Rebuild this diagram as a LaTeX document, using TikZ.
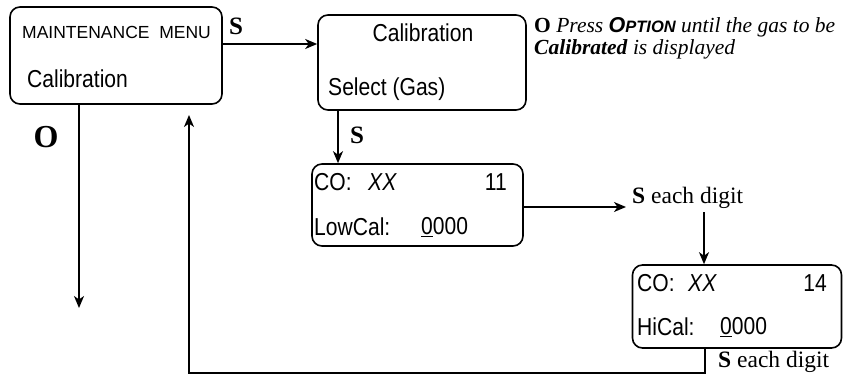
\documentclass[tikz,border=0pt]{standalone}
\usepackage{fontspec}
\setmainfont{Liberation Serif}
\newfontfamily\nar[FakeStretch=0.86]{Liberation Sans}
\newfontfamily\ari{Liberation Sans}
\usetikzlibrary{arrows.meta,calc}
\begin{document}
\begin{tikzpicture}[x=1pt,y=-1pt,
  box/.style={draw, rounded corners=10pt, line width=1.6pt, inner sep=0pt},
  arr/.style={line width=1.7pt, -{Stealth[length=12pt,width=10pt,inset=3.5pt]}},
  sans/.style={font=\nar\fontsize{24.5}{28}\selectfont, inner sep=0pt},
  sanssm/.style={font=\ari\fontsize{17.5}{20}\selectfont, inner sep=0pt},
  lbl/.style={font=\bfseries\fontsize{25}{28}\selectfont, inner sep=0pt},
  serif/.style={font=\fontsize{23.5}{27}\selectfont, inner sep=0pt},
  note/.style={font=\fontsize{21.5}{25}\selectfont, inner sep=0pt}]
\useasboundingbox (0,0) rectangle (843,377);
% boxes
\node[box, minimum width=212pt, minimum height=97pt] (b1) at (116,55.5) {};
\node[box, minimum width=208pt, minimum height=95pt] (b2) at (422,62.5) {};
\node[box, minimum width=211pt, minimum height=82pt] (b3) at (417.5,205) {};
\node[box, minimum width=209pt, minimum height=83pt] (b4) at (737,306.5) {};
% box texts
\node[sanssm, anchor=west] (t1a) at (22,32) {MAINTENANCE\ \ MENU};
\node[sans, anchor=west] (t1b) at (27,79) {Calibration};
\node[sans] (t2a) at (423,33) {Calibration};
\node[sans, anchor=west] (t2b) at (328,89) {Select (Gas)};
\node[sans, anchor=west] (t3a) at (314,182) {CO:};
\node[sans, anchor=west] (t3b) at (368,182) {\itshape XX};
\node[sans, anchor=east] (t3c) at (507,182) {11};
\node[sans, anchor=west] (t3d) at (314,227) {LowCal:};
\node[sans, anchor=west] (t3e) at (421,227) {\underline{0}000};
\node[sans, anchor=west] (t4a) at (637,283) {CO:};
\node[sans, anchor=west] (t4b) at (688,283) {\itshape XX};
\node[sans, anchor=east] (t4c) at (827,283) {14};
\node[sans, anchor=west] (t4d) at (637,327) {HiCal:};
\node[sans, anchor=west] (t4e) at (720,327) {\underline{0}000};
% labels
\node[lbl] (ls1) at (236,26) {S};
\node[font=\bfseries\fontsize{32}{35}\selectfont, inner sep=0pt] (lo) at (46,137) {O};
\node[lbl] (ls2) at (357,135) {S};
\node[serif, anchor=west] (le1) at (632,198) {\textbf{S} each digit};
\node[serif, anchor=west] (le2) at (718,362) {\textbf{S} each digit};
\node[note, anchor=west] (an1) at (534,27) {\textbf{O} \textit{Press} {\ari\bfseries\itshape O\fontsize{16.5}{19}\selectfont PTION} \textit{until the gas to be}};
\node[note, anchor=west] (an2) at (534,49) {\textbf{\textit{Calibrated}} \textit{is displayed}};
% connectors
\coordinate (s1y) at (0,44);
\draw[arr] (b1.east |- s1y) -- (b2.west |- s1y);
\coordinate (oend) at (79,308);
\draw[arr] (b1.south -| oend) -- (oend);
\coordinate (x2) at (338,0);
\draw[arr] (b2.south -| x2) -- (b3.north -| x2);
\coordinate (y3) at (0,207);
\coordinate (e3) at (626,207);
\draw[arr] (b3.east |- y3) -- (e3);
\coordinate (d4) at (704,212);
\draw[arr] (d4) -- (b4.north -| d4);
\coordinate (rx) at (705,0);
\coordinate (rc) at (705,373);
\coordinate (ret) at (189,115);
\draw[arr] (b4.south -| rx) -- (rc) -| (ret);
\end{tikzpicture}
\end{document}
